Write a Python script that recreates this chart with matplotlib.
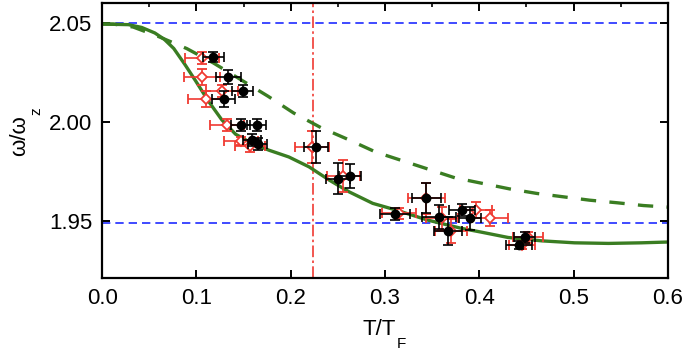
import numpy as np
import matplotlib
matplotlib.use('Agg')
import matplotlib.pyplot as plt

plt.rcParams['font.family'] = ['Liberation Sans', 'DejaVu Sans']

# data
t_black = [0.118, 0.134, 0.149, 0.129, 0.147, 0.164, 0.159, 0.165, 0.227, 0.250,
           0.263, 0.311, 0.344, 0.357, 0.367, 0.382, 0.390, 0.442, 0.448]
w_black = [2.0329, 2.0228, 2.0158, 2.0116, 1.9988, 1.9988, 1.9909, 1.9888, 1.9876, 1.9716,
           1.9730, 1.9537, 1.9616, 1.9523, 1.9453, 1.9557, 1.9515, 1.9379, 1.9419]
t_black_err = [0.011, 0.013, 0.011, 0.012, 0.010, 0.010, 0.010, 0.010, 0.013, 0.013,
               0.012, 0.016, 0.015, 0.018, 0.015, 0.014, 0.012, 0.014, 0.011]
w_black_err = [0.0025, 0.0035, 0.003, 0.004, 0.003, 0.003, 0.003, 0.003, 0.008, 0.008,
               0.006, 0.003, 0.0076, 0.006, 0.007, 0.003, 0.006, 0.002, 0.003]

t_red = [0.106, 0.106, 0.127, 0.110, 0.132, 0.1475, 0.157, 0.223, 0.256, 0.315,
         0.344, 0.360, 0.370, 0.397, 0.411, 0.452, 0.445]
w_red = [2.0326, 2.0228, 2.0158, 2.0116, 1.9988, 1.9905, 1.9879, 1.9876, 1.9730, 1.9540,
         1.9616, 1.9515, 1.9453, 1.9557, 1.9515, 1.9419, 1.9379]
t_red_err = [0.018, 0.019, 0.017, 0.019, 0.018, 0.018, 0.016, 0.018, 0.017, 0.018,
             0.020, 0.017, 0.017, 0.017, 0.019, 0.016, 0.014]
w_red_err = [0.003, 0.004, 0.003, 0.004, 0.003, 0.002, 0.003, 0.008, 0.008, 0.003,
             0.008, 0.006, 0.006, 0.004, 0.004, 0.003, 0.002]

# theory curves
t_solid = [0.0, 0.028, 0.042, 0.056, 0.066, 0.076, 0.088, 0.099, 0.113, 0.127, 0.1415,
           0.159, 0.177, 0.198, 0.2195, 0.241, 0.262, 0.287, 0.312, 0.345, 0.381, 0.402,
           0.4305, 0.466, 0.501, 0.537, 0.572, 0.6]
w_solid = [2.0495, 2.0492, 2.0478, 2.0450, 2.0418, 2.0372, 2.0290, 2.0210, 2.0105, 2.0012,
           1.9940, 1.9893, 1.9859, 1.9825, 1.9775, 1.9708, 1.9649, 1.9591, 1.9557, 1.9507,
           1.9465, 1.9446, 1.9419, 1.9402, 1.9392, 1.9389, 1.9392, 1.9396]
t_dashed = [0.0, 0.012, 0.033, 0.061, 0.090, 0.118, 0.147, 0.176, 0.203, 0.232, 0.261,
            0.290, 0.374, 0.404, 0.432, 0.461, 0.489, 0.517, 0.546, 0.574, 0.6]
w_dashed = [2.0495, 2.0495, 2.048, 2.043, 2.0371, 2.0299, 2.0215, 2.0131, 2.0047, 1.9973,
            1.9913, 1.985, 1.972, 1.9691, 1.9664, 1.9641, 1.9624, 1.9607, 1.9594, 1.958,
            1.9572]

w_limits = [2.05, 1.949]
t_crit = 0.224

green = '#3a7d22'
red = '#f03a32'

fig = plt.figure(figsize=(6.85, 3.55), dpi=100)
ax = fig.add_axes([0.149, 0.216, 0.826, 0.776])

for w in w_limits:
    ax.axhline(w, color='#1f2bff', lw=1.2, ls=(0, (5, 3)), zorder=1)
ax.axvline(t_crit, color=red, lw=1.2, ls=(0, (7, 2, 1.5, 2)), zorder=1)

ax.plot(t_solid, w_solid, color=green, lw=2.4, zorder=2)
ax.plot(t_dashed, w_dashed, color=green, lw=2.4, ls=(0, (4.6, 4)), zorder=2)

ax.errorbar(t_red, w_red, xerr=t_red_err, yerr=w_red_err, fmt='D', ms=5,
            mfc='white', mec=red, mew=1.3, ecolor=red, elinewidth=1.2,
            capsize=3.5, capthick=1.2, zorder=3)
ax.errorbar(t_black, w_black, xerr=t_black_err, yerr=w_black_err, fmt='o', ms=6,
            color='black', elinewidth=1.2, capsize=3.5, capthick=1.2, zorder=4)

ax.set_xlim(0, 0.6)
ax.set_ylim(1.9213, 2.0602)
ax.set_xticks(np.arange(0, 0.61, 0.1))
ax.set_xticks(np.arange(0.05, 0.6, 0.1), minor=True)
ax.set_yticks([1.95, 2.00, 2.05])
ax.xaxis.set_major_formatter(matplotlib.ticker.FormatStrFormatter('%.1f'))
ax.yaxis.set_major_formatter(matplotlib.ticker.FormatStrFormatter('%.2f'))
ax.tick_params(which='major', direction='in', length=6, width=1.4, labelsize=16,
               top=True, right=True, pad=7)
ax.tick_params(which='minor', direction='in', length=3, width=1.2, top=True, bottom=False)
for s in ax.spines.values():
    s.set_linewidth(1.6)

# axis labels with low-set subscripts like the original
ax.set_xlabel('T/T', fontsize=16, labelpad=7.5)
ax.xaxis.label.set_x(0.49)
ax.set_ylabel('ω/ω', fontsize=16, labelpad=14)
ax.yaxis.label.set_y(0.52)
ax.annotate('F', xy=(1, 0), xycoords=ax.xaxis.label, xytext=(0.5, 2.5),
            textcoords='offset points', fontsize=11, ha='left', va='top')
ax.annotate('z', xy=(1, 1), xycoords=ax.yaxis.label, xytext=(0, -0.5),
            textcoords='offset points', fontsize=11, rotation=90,
            ha='left', va='bottom')

fig.savefig('out.png', dpi=100)
